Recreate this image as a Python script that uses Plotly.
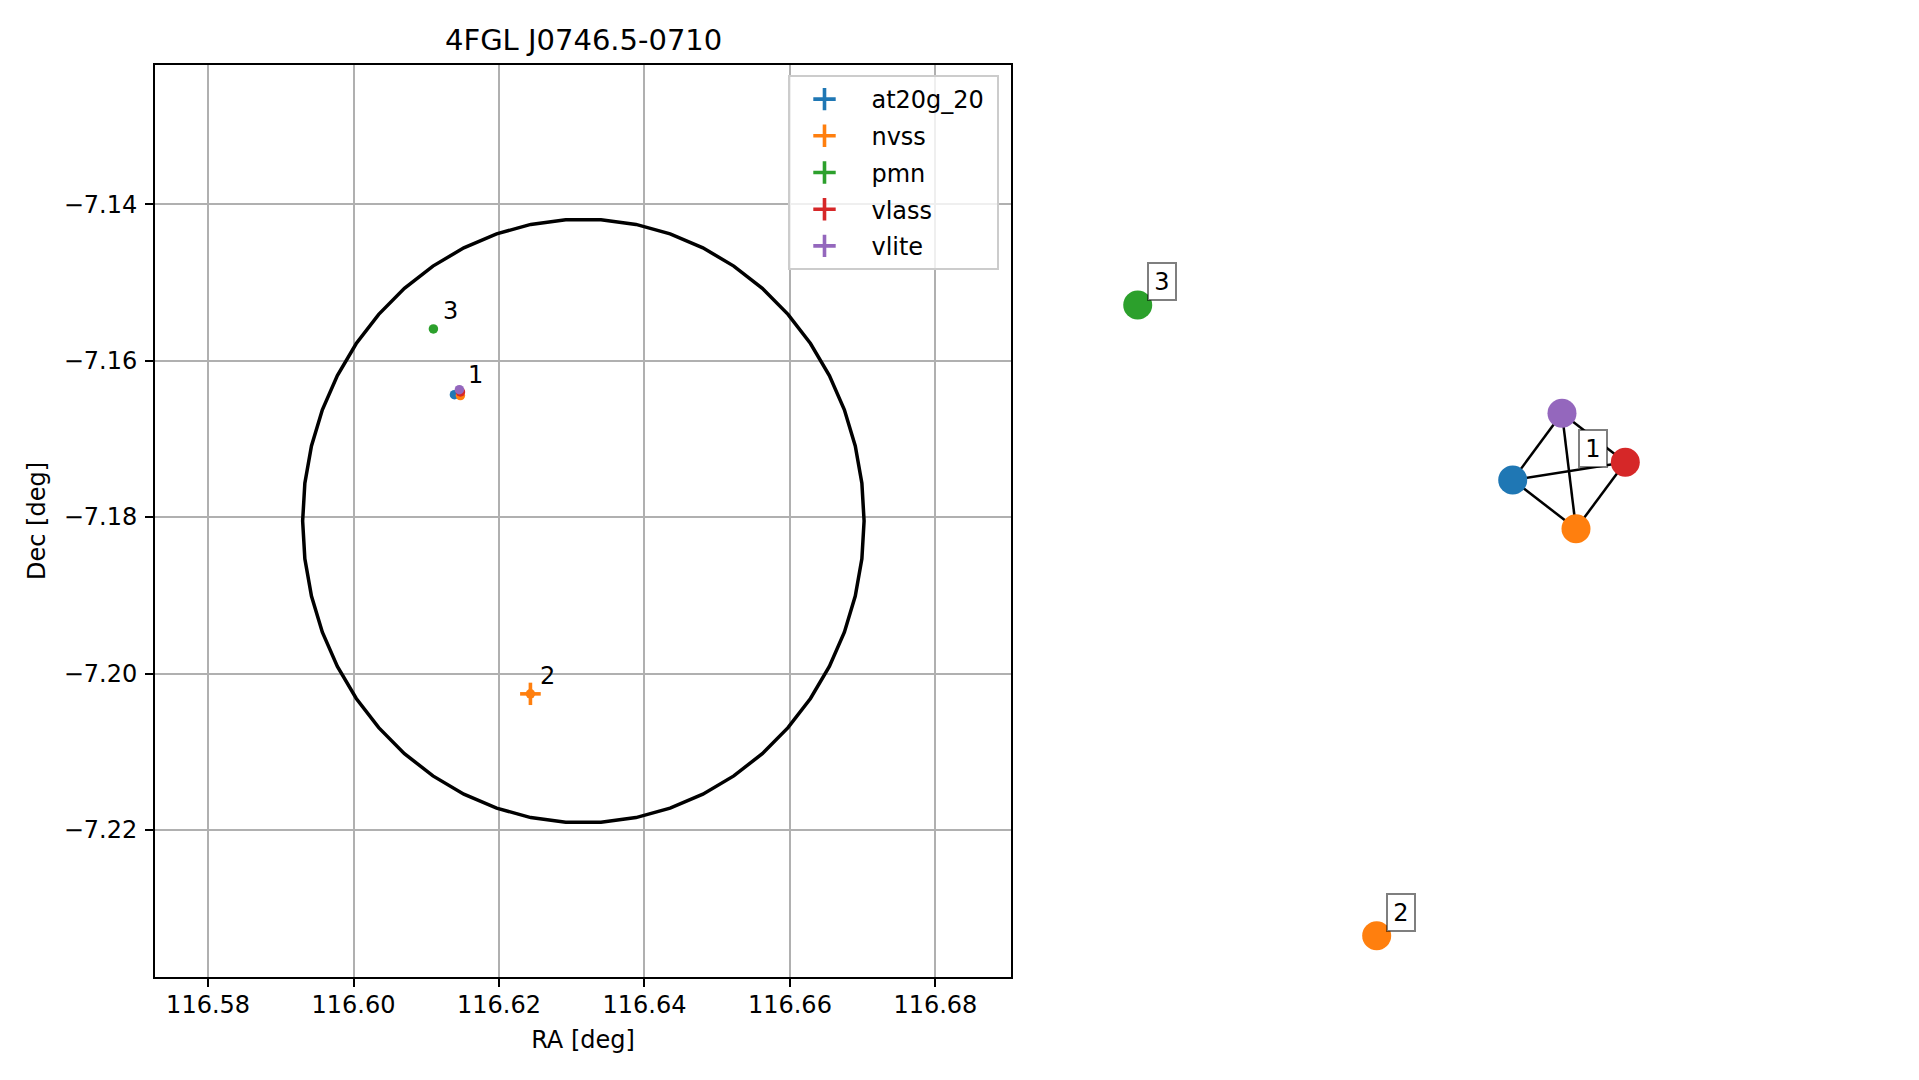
import numpy as np
import plotly.graph_objects as go

# ---------------- data ----------------
title_text = "4FGL J0746.5-0710"
catalogs = ["at20g_20", "nvss", "pmn", "vlass", "vlite"]
catalog_colors = ["#1f77b4", "#ff7f0e", "#2ca02c", "#d62728", "#9467bd"]

# individual radio sources (one row each)
src_catalog = ["at20g_20", "nvss", "nvss", "pmn", "vlass", "vlite"]
src_ra = [116.61387, 116.61469, 116.62432, 116.61098, 116.61470, 116.61455]
src_dec = [-7.16435, -7.16447, -7.20260, -7.15595, -7.16400, -7.16371]
src_ra_err = [0.00020, 0.00035, 0.00142, 0.00030, 0.00005, 0.00020]
src_dec_err = [0.00020, 0.00035, 0.00143, 0.00030, 0.00005, 0.00020]
src_group = [1, 1, 2, 3, 1, 1]

# graph layout (node positions of the association graph, layout units)
node_layout_x = [0.0698, 0.2176, -0.2479, -0.8060, 0.3328, 0.1849]
node_layout_y = [0.0899, -0.0169, -0.9094, 0.4737, 0.1287, 0.2362]

# 4FGL positional uncertainty circle
circle_center_ra = 116.6316
circle_center_dec = -7.1805
circle_radius = 0.0386

x_tickvals = [116.58, 116.60, 116.62, 116.64, 116.66, 116.68]
x_ticktext = ["116.58", "116.60", "116.62", "116.64", "116.66", "116.68"]
y_tickvals = [-7.14, -7.16, -7.18, -7.20, -7.22]
y_ticktext = ["\u22127.14", "\u22127.16", "\u22127.18", "\u22127.20", "\u22127.22"]
x_range = [116.5727, 116.6904]
y_range = [-7.2388, -7.1222]
x_label = "RA [deg]"
y_label = "Dec [deg]"

# ---------------- figure ----------------
FONT = "DejaVu Sans"
OFF = 8                      # page body margin
W, H = 1919 - 2 * OFF, 1080 - 2 * OFF


def px(xp):
    return (xp - OFF) / W


def py(yp):
    return 1 - (yp - OFF) / H


fig = go.Figure()
color_of = dict(zip(catalogs, catalog_colors))

# circle
theta = np.linspace(0, 2 * np.pi, 51)
fig.add_trace(go.Scatter(
    x=circle_center_ra + circle_radius * np.cos(theta),
    y=circle_center_dec + circle_radius * np.sin(theta),
    mode="lines", line=dict(color="black", width=3.5),
    showlegend=False, hoverinfo="skip", xaxis="x", yaxis="y"))

# sources per catalog
for cat in catalogs:
    idx = [i for i, c in enumerate(src_catalog) if c == cat]
    col = color_of[cat]
    fig.add_trace(go.Scatter(
        x=[src_ra[i] for i in idx], y=[src_dec[i] for i in idx],
        mode="markers",
        marker=dict(color=col, size=9.5),
        error_x=dict(type="data", array=[src_ra_err[i] for i in idx],
                     color=col, thickness=3.6, width=0),
        error_y=dict(type="data", array=[src_dec_err[i] for i in idx],
                     color=col, thickness=3.6, width=0),
        showlegend=False, xaxis="x", yaxis="y"))
    # legend entry
    fig.add_trace(go.Scatter(
        x=[None], y=[None], mode="markers", name="\u00a0\u2009" + cat + "\u00a0",
        legendgroup=cat,
        marker=dict(symbol="cross-thin-open", size=16, color=col,
                    line=dict(color=col, width=3.6)),
        xaxis="x", yaxis="y"))

# group labels on the sky plot
groups = sorted(set(src_group))
annotations = []
for g in groups:
    idx = [i for i, gg in enumerate(src_group) if gg == g]
    cx = float(np.mean([src_ra[i] for i in idx]))
    cy = float(np.mean([src_dec[i] for i in idx]))
    annotations.append(dict(x=cx, y=cy, xref="x", yref="y", text=str(g),
                            showarrow=False, xshift=17, yshift=18,
                            font=dict(family=FONT, size=24, color="black")))

# association graph: edges inside each group
ex, ey = [], []
for g in groups:
    idx = [i for i, gg in enumerate(src_group) if gg == g]
    for a in range(len(idx)):
        for b in range(a + 1, len(idx)):
            i, j = idx[a], idx[b]
            ex += [node_layout_x[i], node_layout_x[j], None]
            ey += [node_layout_y[i], node_layout_y[j], None]
fig.add_trace(go.Scatter(x=ex, y=ey, mode="lines",
                         line=dict(color="black", width=2.5),
                         showlegend=False, hoverinfo="skip",
                         xaxis="x2", yaxis="y2"))
fig.add_trace(go.Scatter(
    x=node_layout_x, y=node_layout_y, mode="markers",
    marker=dict(size=29, color=[color_of[c] for c in src_catalog]),
    showlegend=False, xaxis="x2", yaxis="y2"))

for g in groups:
    idx = [i for i, gg in enumerate(src_group) if gg == g]
    cx = float(np.mean([node_layout_x[i] for i in idx]))
    cy = float(np.mean([node_layout_y[i] for i in idx]))
    annotations.append(dict(x=cx, y=cy, xref="x2", yref="y2", text=str(g),
                            showarrow=False, xshift=24, yshift=23,
                            width=24, height=33, borderpad=1, borderwidth=2,
                            bordercolor="rgba(0,0,0,0.5)", bgcolor="white",
                            font=dict(family=FONT, size=24, color="black")))

# title and y label
L, R, T, B = 155, 1011, 65, 977
annotations.append(dict(x=px((L + R) / 2), y=py(40), xref="paper", yref="paper",
                        text=title_text, showarrow=False, xanchor="center", yanchor="middle",
                        font=dict(family=FONT, size=29, color="black")))
annotations.append(dict(x=px(37), y=py(521), xref="paper", yref="paper",
                        text=y_label, showarrow=False, textangle=-90,
                        xanchor="center", yanchor="middle",
                        font=dict(family=FONT, size=24, color="black")))

axis_common = dict(showline=True, mirror=True, linecolor="black", linewidth=2,
                   ticks="outside", ticklen=8, tickwidth=2, tickcolor="black",
                   showgrid=True, gridcolor="#b0b0b0", gridwidth=2,
                   zeroline=False,
                   tickfont=dict(family=FONT, size=24, color="black"))

fig.update_layout(
    width=W, height=H, autosize=False,
    margin=dict(l=0, r=0, t=0, b=0),
    paper_bgcolor="white", plot_bgcolor="white",
    font=dict(family=FONT, size=24, color="black"),
    xaxis=dict(domain=[px(L), px(R)], range=x_range, tickmode="array",
               tickvals=x_tickvals, ticktext=x_ticktext, ticklabelstandoff=-3,
               title=dict(text=x_label, font=dict(family=FONT, size=24), standoff=13),
               anchor="y", **axis_common),
    yaxis=dict(domain=[py(B), py(T)], range=y_range, tickmode="array",
               tickvals=y_tickvals, ticktext=y_ticktext, ticklabelstandoff=3,
               anchor="x", **axis_common),
    xaxis2=dict(domain=[0.55, 1.0], range=[-1, 1], visible=False, anchor="y2"),
    yaxis2=dict(domain=[py(B), py(T)], range=[-1, 1], visible=False, anchor="x2"),
    legend=dict(x=px(999), y=py(75), xanchor="right", yanchor="top",
                bgcolor="rgba(255,255,255,0.8)", bordercolor="#cccccc", borderwidth=2,
                font=dict(family=FONT, size=24, color="black"),
                itemwidth=59, tracegroupgap=2.5, traceorder="grouped"),
    annotations=annotations,
    showlegend=True,
)

fig.write_html("out.html")
